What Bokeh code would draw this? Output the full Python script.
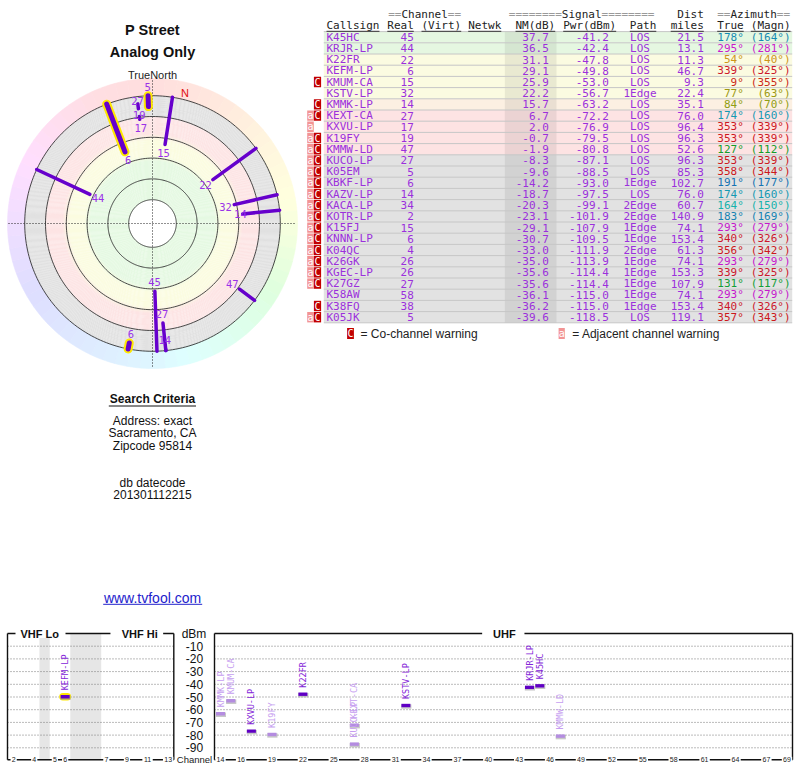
import math
import colorsys
import numpy as np
from bokeh.plotting import figure
from bokeh.models import ColumnDataSource
from bokeh.core.properties import value
from bokeh.embed import file_html
from bokeh.resources import INLINE

# ------------------------------------------------------------------ data
callsigns = ["K45HC", "KRJR-LP", "K22FR", "KEFM-LP", "KMUM-CA", "KSTV-LP", "KMMK-LP",
             "KEXT-CA", "KXVU-LP", "K19FY", "KMMW-LD", "KUCO-LP", "K05EM", "KBKF-LP",
             "KAZV-LP", "KACA-LP", "KOTR-LP", "K15FJ", "KNNN-LP", "K04QC", "K26GK",
             "KGEC-LP", "K27GZ", "K58AW", "K38FQ", "K05JK"]
channels = [45, 44, 22, 6, 15, 32, 14, 27, 17, 19, 47, 27, 5, 6, 14, 34, 2, 15, 6, 4,
            26, 26, 27, 58, 38, 5]
nm_db = [37.7, 36.5, 31.1, 29.1, 25.9, 22.2, 15.7, 6.7, 2.0, -0.7, -1.9, -8.3, -9.6,
         -14.2, -18.7, -20.3, -23.1, -29.1, -30.7, -33.0, -35.0, -35.6, -35.6, -36.1,
         -36.2, -39.6]
pwr_dbm = [-41.2, -42.4, -47.8, -49.8, -53.0, -56.7, -63.2, -72.2, -76.9, -79.5, -80.8,
           -87.1, -88.5, -93.0, -97.5, -99.1, -101.9, -107.9, -109.5, -111.9, -113.9,
           -114.4, -114.4, -115.0, -115.0, -118.5]
paths = ["LOS", "LOS", "LOS", "LOS", "LOS", "1Edge", "LOS", "LOS", "LOS", "LOS", "LOS",
         "LOS", "LOS", "1Edge", "LOS", "2Edge", "2Edge", "1Edge", "1Edge", "2Edge",
         "1Edge", "1Edge", "1Edge", "1Edge", "1Edge", "LOS"]
dist_miles = [21.5, 13.1, 11.3, 46.7, 9.3, 22.4, 35.1, 76.0, 96.4, 96.3, 52.6, 96.3, 85.3,
              102.7, 76.0, 60.7, 140.9, 74.1, 153.4, 61.3, 74.1, 153.3, 107.9, 74.1,
              153.4, 119.1]
az_true = [178, 295, 54, 339, 9, 77, 84, 174, 353, 353, 127, 353, 358, 191, 174, 164, 183,
           293, 340, 356, 293, 339, 131, 293, 340, 357]
az_magn = [164, 281, 40, 325, 355, 63, 70, 160, 339, 339, 112, 339, 344, 177, 160, 150,
           169, 279, 326, 342, 279, 325, 117, 279, 326, 343]
adjacent_warn = [0, 0, 0, 0, 0, 0, 0, 1, 1, 1, 1, 1, 1, 1, 1, 1, 1, 1, 1, 1, 1, 1, 1, 0, 0, 1]
cochannel_warn = [0, 0, 0, 0, 1, 0, 1, 1, 0, 1, 1, 1, 1, 1, 1, 1, 1, 1, 1, 1, 1, 1, 1, 0, 1, 1]

polar_ring_nm = [80, 60, 40, 20, 0, -20]
polar_edge_nm = -20
polar_line_end_nm = {"KXVU-LP": 2.0, "K19FY": -0.7, "KUCO-LP": -13.0}
spectrum_calls = ["K45HC", "KRJR-LP", "K22FR", "KEFM-LP", "KMUM-CA", "KSTV-LP", "KMMK-LP",
                  "KEXT-CA", "KXVU-LP", "K19FY", "KMMW-LD", "KUCO-LP"]
vhf_tick_channels = [2, 4, 5, 6, 7, 9, 11, 13]
uhf_tick_channels = [14, 16, 19, 22, 25, 28, 31, 34, 37, 40, 43, 46, 49, 52, 55, 58, 61,
                     64, 67, 69]
dbm_ticks = [-10, -20, -30, -40, -50, -60, -70, -80, -90]

title_lines = ["P Street", "Analog Only"]
search_title = "Search Criteria"
search_lines = ["Address: exact", "Sacramento, CA", "Zipcode 95814"]
datecode_lines = ["db datecode", "201301112215"]
site_url = "www.tvfool.com"

# ------------------------------------------------------------------ style
MONO = value("DejaVu Sans Mono")
SANS = value("Liberation Sans")
PURPLE_TXT = "#9b30dc"
LINE_PURPLE = "#6600cc"
HILITE = "#ffe800"

p = figure(width=800, height=768, x_range=(0, 800), y_range=(768, 0),
           x_axis_type=None, y_axis_type=None, output_backend="svg",
           toolbar_location=None, min_border=0)
p.grid.visible = False
p.outline_line_color = None
p.background_fill_color = "white"
p.border_fill_color = "white"


def put_text(xs, ys, texts, size, color, font=SANS, align="left", baseline="middle",
             style="normal", angle=0.0):
    cols = color if isinstance(color, list) else [color] * len(xs)
    src = ColumnDataSource(dict(x=list(xs), y=list(ys), t=list(texts), c=cols))
    p.text(x="x", y="y", text="t", source=src, text_color="c", text_font=font,
           text_font_size=size, text_align=align, text_baseline=baseline,
           text_font_style=style, angle=angle)


def hexc(c):
    return "#%02x%02x%02x" % tuple(int(round(v)) for v in c)


def interp_color(x, stops):
    xs = [s[0] for s in stops]
    out = []
    for k in range(3):
        out.append(np.interp(x, xs, [s[1][k] for s in stops]))
    return hexc(out)


AZ_PTS = [0, 30, 54, 80, 127, 178, 240, 295, 335, 360]
HUE_PTS = [0, 20, 42, 60, 130, 195, 240, 300, 352, 360]


def az_hue(az):
    return float(np.interp(az % 360, AZ_PTS, HUE_PTS))


def az_text_color(az):
    h = az_hue(az)
    if 52 < h < 160:
        v = 0.62
    elif 160 <= h < 230:
        v = 0.70
    else:
        v = 0.80
    r, g, b = colorsys.hsv_to_rgb(h / 360.0, 0.88, v)
    return hexc((r * 255, g * 255, b * 255))


def az_ring_color(az):
    r, g, b = colorsys.hsv_to_rgb(az_hue(az) / 360.0, 0.13, 1.0)
    return hexc((r * 255, g * 255, b * 255))


# ------------------------------------------------------------------ polar chart
CX, CY = 152.0, 223.0
R_OUT = 145.0


def nm_to_r(nm):
    return 107.0 - 1.04 * nm


def pol(r, az):
    a = math.radians(az)
    return CX + r * math.sin(a), CY - r * math.cos(a)


GREEN = (229, 249, 226)
YEL = (251, 252, 224)
PINK = (253, 228, 228)
GRAY = (225, 225, 225)
r_edge = nm_to_r(polar_edge_nm)
r_zero = nm_to_r(0)
bg_stops = [(nm_to_r(80), GREEN), (nm_to_r(43), GREEN), (nm_to_r(37), YEL),
            (nm_to_r(23), YEL), (nm_to_r(16), PINK), (r_zero - 1, PINK),
            (r_zero + 1, GRAY), (r_edge, GRAY)]

# outer hue ring
ring_xs, ring_ys, ring_cols = [], [], []
for k in range(72):
    a0, a1 = k * 5.0, (k + 1) * 5.0
    angs = np.linspace(a0, a1, 6)
    xo = [pol(R_OUT, a)[0] for a in angs] + [pol(r_edge - 1, a)[0] for a in angs[::-1]]
    yo = [pol(R_OUT, a)[1] for a in angs] + [pol(r_edge - 1, a)[1] for a in angs[::-1]]
    ring_xs.append(xo)
    ring_ys.append(yo)
    ring_cols.append(az_ring_color(a0 + 2.5))
p.patches(ring_xs, ring_ys, fill_color=ring_cols, line_color=ring_cols, line_width=0.6)

# radial strength background
rr = np.arange(nm_to_r(80), r_edge, 1.0)
p.annulus(x=[CX] * len(rr), y=[CY] * len(rr), inner_radius=list(rr),
          outer_radius=[min(r + 1.1, r_edge) for r in rr],
          fill_color=[interp_color(r + 0.5, bg_stops) for r in rr], line_color=None)

# ring circles
circ_xs, circ_ys = [], []
for nm in polar_ring_nm:
    r = nm_to_r(nm)
    t = np.linspace(0, 360, 241)
    circ_xs.append([pol(r, a)[0] for a in t])
    circ_ys.append([pol(r, a)[1] for a in t])
p.multi_line(circ_xs, circ_ys, line_color="#333333", line_width=0.9)

# cross hair
p.line([CX - 144, CX + 144], [CY, CY], line_color="#222222", line_width=1, line_dash="1 2")
p.line([CX, CX], [CY - 143, CY + 143], line_color="#222222", line_width=1, line_dash="1 2")

put_text([CX], [74], ["TrueNorth"], "11px", "#222222", align="center")
declination = az_true[0] - az_magn[0]
nx, ny = pol(134, declination)
put_text([nx], [ny], ["N"], "11px", "#e01010", align="center")

# station lines
polar_idx = [i for i in range(len(callsigns)) if nm_db[i] > polar_edge_nm]
seg = dict(x0=[], y0=[], x1=[], y1=[])
hseg = dict(x0=[], y0=[], x1=[], y1=[])
lab_x, lab_y, lab_t, placed = [], [], [], []
for i in polar_idx:
    r0 = nm_to_r(nm_db[i])
    r1 = nm_to_r(polar_line_end_nm.get(callsigns[i], polar_edge_nm))
    x0, y0 = pol(r0, az_true[i])
    x1, y1 = pol(max(r1, r0 + 0.01), az_true[i])
    target = hseg if channels[i] <= 6 else seg
    target["x0"].append(x0); target["y0"].append(y0)
    target["x1"].append(x1); target["y1"].append(y1)
    # label with simple collision avoidance
    rl = r0 - 9
    moved = True
    while moved:
        moved = False
        lx, ly = pol(rl, az_true[i])
        for (px, py, pr) in placed:
            if math.hypot(lx - px, ly - py) < 12:
                rl = pr + 13.5
                moved = True
                break
    lx, ly = pol(rl, az_true[i])
    placed.append((lx, ly, rl))
    lab_x.append(lx); lab_y.append(ly); lab_t.append(str(channels[i]))

p.segment(x0="x0", y0="y0", x1="x1", y1="y1", source=ColumnDataSource(hseg),
          line_color=HILITE, line_width=9, line_cap="round")
p.segment(x0="x0", y0="y0", x1="x1", y1="y1", source=ColumnDataSource(hseg),
          line_color=LINE_PURPLE, line_width=5, line_cap="round")
p.segment(x0="x0", y0="y0", x1="x1", y1="y1", source=ColumnDataSource(seg),
          line_color=LINE_PURPLE, line_width=3.5, line_cap="round")
put_text(lab_x, lab_y, lab_t, "10.5px", "#9a32e8", font=MONO, align="center")

# titles & left texts
put_text([CX, CX], [29, 51], title_lines, "14.5px", "#111111", align="center", style="bold")
put_text([CX], [398.5], [search_title], "12px", "#111111", align="center", style="bold")
p.line([108.3, 195.5], [405.5, 405.5], line_color="#111111", line_width=1)
put_text([CX] * 3, [420, 432.7, 445.2], search_lines, "12px", "#111111", align="center")
put_text([CX] * 2, [482.5, 494], datecode_lines, "12px", "#111111", align="center")
put_text([CX], [597.5], [site_url], "14px", "#2222cc", align="center")
p.line([102.7, 201.7], [603.8, 603.8], line_color="#2222cc", line_width=1)

# ------------------------------------------------------------------ table
ROW0, ROWH = 36.7, 11.2
TX0, TX1 = 323.3, 791.7
NMX0, NMX1 = 504.3, 556.0
CW = 0.602 * 11
n = len(callsigns)
row_y = [ROW0 + ROWH * i for i in range(n)]


def tier_color(nm):
    if nm >= 35:
        return (229, 247, 225)
    if nm >= 18:
        return (251, 251, 225)
    if nm >= 10:
        return (252, 240, 226)
    if nm >= -5:
        return (253, 227, 227)
    return (226, 226, 226)


row_cols = [hexc(tier_color(v)) for v in nm_db]
nm_cols = [hexc([c * 0.93 for c in tier_color(v)]) for v in nm_db]
p.rect(x=[(TX0 + TX1) / 2] * n, y=row_y, width=TX1 - TX0, height=ROWH,
       fill_color=row_cols, line_color=None)
p.rect(x=[(NMX0 + NMX1) / 2] * n, y=row_y, width=NMX1 - NMX0, height=ROWH,
       fill_color=nm_cols, line_color=None)
sep_y = [ROW0 - ROWH / 2 + ROWH * i for i in range(n + 1)]
p.multi_line([[TX0, TX1]] * len(sep_y), [[y, y] for y in sep_y],
             line_color="#c6c6c6", line_width=1)

# warnings
a_rows = [row_y[i] for i in range(n) if adjacent_warn[i]]
c_rows = [row_y[i] for i in range(n) if cochannel_warn[i]]
p.rect(x=[310.0] * len(a_rows), y=a_rows, width=6.6, height=10.4, fill_color="#f29494",
       line_color=None)
p.rect(x=[317.0] * len(c_rows), y=c_rows, width=7.2, height=10.4, fill_color="#c20000",
       line_color=None)
put_text([310.0] * len(a_rows), a_rows, ["a"] * len(a_rows), "10px", "white", font=MONO,
         align="center")
put_text([317.0] * len(c_rows), c_rows, ["C"] * len(c_rows), "10px", "white", font=MONO,
         align="center")

# header
HDR1, HDR2 = 14.0, 25.0
GRAYTXT, DARK = "#9a9a9a", "#222222"


def deco(x0, left, word, right):
    put_text([x0], [HDR1], [left], "11px", GRAYTXT, font=MONO)
    put_text([x0 + CW * len(left)], [HDR1], [word], "11px", DARK, font=MONO)
    put_text([x0 + CW * (len(left) + len(word))], [HDR1], [right], "11px", GRAYTXT, font=MONO)


deco(387.7, "==", "Channel", "==")
deco(508.3, "========", "Signal", "========")
deco(716.7, "==", "Azimuth", "==")
put_text([703.3], [HDR1], ["Dist"], "11px", DARK, font=MONO, align="right")

hdr_left = [("Callsign", 326.0), ("(Virt)", 421.0), ("Netwk", 467.7), ("NM(dB)", 515.0),
            ("Pwr(dBm)", 562.7), ("Path", 629.3), ("True", 716.7)]
hdr_right = [("Real", 413.3), ("miles", 703.3), ("(Magn)", 790.0)]
put_text([h[1] for h in hdr_left], [HDR2] * len(hdr_left), [h[0] for h in hdr_left],
         "11px", DARK, font=MONO)
put_text([h[1] for h in hdr_right], [HDR2] * len(hdr_right), [h[0] for h in hdr_right],
         "11px", DARK, font=MONO, align="right")
ul_x, ul_y = [], []
for w, x in hdr_left:
    ul_x.append([x, x + CW * len(w)]); ul_y.append([30.8, 30.8])
for w, x in hdr_right:
    ul_x.append([x - CW * len(w), x]); ul_y.append([30.8, 30.8])
p.multi_line(ul_x, ul_y, line_color="#333333", line_width=1)

# data columns
put_text([326.0] * n, row_y, callsigns, "11px", PURPLE_TXT, font=MONO)
put_text([413.3] * n, row_y, [str(c) for c in channels], "11px", PURPLE_TXT, font=MONO,
         align="right")
put_text([548.3] * n, row_y, ["%.1f" % v for v in nm_db], "11px", PURPLE_TXT, font=MONO,
         align="right")
put_text([608.3] * n, row_y, ["%.1f" % v for v in pwr_dbm], "11px", PURPLE_TXT, font=MONO,
         align="right")
put_text([639.5] * n, row_y, paths, "11px", PURPLE_TXT, font=MONO, align="center")
put_text([703.3] * n, row_y, ["%.1f" % v for v in dist_miles], "11px", PURPLE_TXT,
         font=MONO, align="right")
put_text([743.3] * n, row_y, ["%d\u00b0" % v for v in az_true], "11px",
         [az_text_color(v) for v in az_true], font=MONO, align="right")
put_text([790.0] * n, row_y, ["(%d\u00b0)" % v for v in az_magn], "11px",
         [az_text_color(v) for v in az_true], font=MONO, align="right")

# legend
LEGY = 333.0
p.rect(x=[350.0], y=[LEGY], width=6.8, height=11, fill_color="#c20000", line_color=None)
put_text([350.0], [LEGY], ["C"], "10px", "white", font=MONO, align="center")
put_text([360.0], [LEGY], ["= Co-channel warning"], "12px", "#222222")
p.rect(x=[561.2], y=[LEGY], width=6.2, height=11, fill_color="#f29494", line_color=None)
put_text([561.2], [LEGY], ["a"], "10px", "white", font=MONO, align="center")
put_text([571.7], [LEGY], ["= Adjacent channel warning"], "12px", "#222222")

# ------------------------------------------------------------------ spectrum
SLOT_W = 10.3
VHF_X0 = 8.0
UHF_X14 = 220.0
VHF_SLOT = {2: 0, 3: 1, 4: 2, 5: 4, 6: 5, 7: 9, 8: 10, 9: 11, 10: 12, 11: 13, 12: 14, 13: 15}
VHF_GAPS = [(3, 1), (6, 3)]
SPEC_TOP, SPEC_BOT = 633.0, 759.3
VHF_L, VHF_R = 7.0, 173.3
UHF_L, UHF_R = 214.0, 792.0


def chan_x(ch):
    if ch <= 13:
        return VHF_X0 + (VHF_SLOT[ch] + 0.5) * SLOT_W
    return UHF_X14 + (ch - 14) * SLOT_W


def dbm_y(d):
    return SPEC_TOP - 1.27 * d


# gap bands
for s, k in VHF_GAPS:
    x0 = VHF_X0 + s * SLOT_W
    p.rect(x=[x0 + k * SLOT_W / 2], y=[(SPEC_TOP + SPEC_BOT) / 2], width=k * SLOT_W,
           height=SPEC_BOT - SPEC_TOP, fill_color="#e6e6e6", line_color=None)

# grid
gx, gy = [], []
for d in dbm_ticks:
    y = dbm_y(d)
    gx += [[VHF_L, VHF_R], [UHF_L, UHF_R]]
    gy += [[y, y], [y, y]]
p.multi_line(gx, gy, line_color="#777777", line_width=1, line_dash="1 2")
put_text([194.0] * len(dbm_ticks), [dbm_y(d) for d in dbm_ticks],
         ["%d" % d for d in dbm_ticks], "12px", "#111111", align="center")
put_text([193.5], [SPEC_TOP], ["dBm"], "12px", "#111111", align="center")

# frames
fx = [[VHF_L, VHF_R], [VHF_L, VHF_L], [VHF_R, VHF_R], [VHF_L, VHF_R],
      [UHF_L, UHF_R], [UHF_L, UHF_L], [UHF_R, UHF_R], [UHF_L, UHF_R]]
fy = [[SPEC_TOP, SPEC_TOP], [SPEC_TOP, SPEC_BOT], [SPEC_TOP, SPEC_BOT], [SPEC_BOT, SPEC_BOT],
      [SPEC_TOP, SPEC_TOP], [SPEC_TOP, SPEC_BOT], [SPEC_TOP, SPEC_BOT], [SPEC_BOT, SPEC_BOT]]
p.multi_line(fx, fy, line_color="#111111", line_width=1.4)

# band titles with white gaps
p.rect(x=[40.0, 136.3, 502.8], y=[SPEC_TOP] * 3, width=[50, 52.7, 42.3], height=9,
       fill_color="white", line_color=None)
put_text([39.2, 139.3, 503.8], [SPEC_TOP] * 3, ["VHF Lo", "VHF Hi", "UHF"], "11px",
         "#111111", align="center", style="bold")

# channel tick labels on axis
tick_ch = vhf_tick_channels + uhf_tick_channels
tick_x = [chan_x(c) for c in tick_ch]
p.rect(x=tick_x, y=[SPEC_BOT] * len(tick_x), width=[4.2 * len(str(c)) + 2 for c in tick_ch],
       height=6, fill_color="white", line_color=None)
put_text(tick_x, [SPEC_BOT] * len(tick_x), [str(c) for c in tick_ch], "7px",
         "#222222", align="center")
p.rect(x=[194.0], y=[SPEC_BOT], width=36, height=8, fill_color="white", line_color=None)
put_text([194.0], [SPEC_BOT], ["Channel"], "9.5px", "#222222", align="center")

# station marks
sx, sy, sc, lc, lt, hx, hy = [], [], [], [], [], [], []
for name in spectrum_calls:
    i = callsigns.index(name)
    x = chan_x(channels[i])
    y = dbm_y(pwr_dbm[i])
    faded = bool(cochannel_warn[i])
    sx.append(x); sy.append(y)
    sc.append("#b48ce0" if faded else "#6000c4")
    lc.append("#c69ef0" if faded else "#8424d8")
    lt.append(name)
    if channels[i] <= 6:
        hx.append(x); hy.append(y)
p.segment(x0=[x - 2.2 for x in hx], y0=hy, x1=[x + 2.2 for x in hx], y1=hy,
          line_color=HILITE, line_width=7.5, line_cap="round")
p.rect(x=[x + 0.4 for x in sx], y=[y + 1.0 for y in sy], width=10.2, height=4.4,
       fill_color="#9a9a9a", fill_alpha=0.55, line_color=None)
p.rect(x=sx, y=sy, width=9.0, height=3.4, fill_color=sc, line_color=None)
put_text(sx, [y - 6.5 for y in sy], lt, "8.5px", lc, font=MONO, align="left",
         angle=math.pi / 2)

open("out.html", "w").write(file_html(p, INLINE))
